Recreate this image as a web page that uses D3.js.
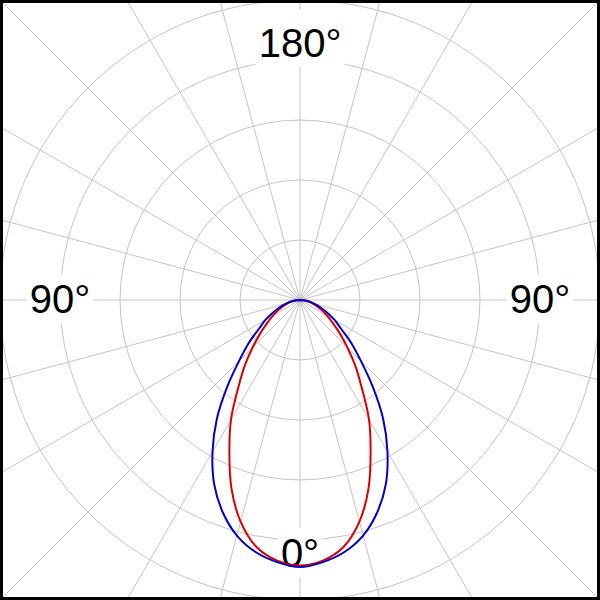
<!DOCTYPE html>
<html>
<head>
<meta charset="utf-8">
<script src="https://cdn.jsdelivr.net/npm/d3@7"></script>
<style>
  html, body { margin: 0; padding: 0; background: #fff; }
  svg { display: block; }
</style>
</head>
<body>
<svg id="chart" width="600" height="600"></svg>
<script>
// Angles (degrees from the 0° downward axis, symmetric left/right)
const angles = [0, 5, 10, 15, 20, 25, 30, 35, 40, 45, 50, 55, 60, 65, 70, 75, 80, 85, 90];
// Relative intensity (% of outer ring)
const blueValues = [89.0, 87.7, 85.3, 81.3, 75.3, 67.7, 58.3, 48.3, 37.7, 28.7, 22.3, 16.7, 13.3, 10.0, 7.3, 5.0, 3.3, 1.7, 0];
const redValues  = [88.5, 87.2, 83.6, 76.5, 66.8, 55.7, 46.0, 36.0, 28.7, 22.3, 17.3, 13.3, 10.3, 8.0, 6.0, 4.3, 2.7, 1.3, 0];
// Grid rings and spokes
const ringValues = [20, 40, 60, 80, 100];
const spokeAngles = d3.range(0, 360, 15);
// Angle labels
const labelTexts = ["180°", "90°", "90°", "0°"];

const W = 600, H = 600, cx = 300, cy = 300;
const svg = d3.select("#chart");
const r = d3.scaleLinear().domain([0, 100]).range([0, 300]);
const toRad = d => d * Math.PI / 180;

const g = svg.append("g").attr("transform", `translate(${cx},${cy})`);

// Rings
g.selectAll("circle.ring").data(ringValues).join("circle")
  .attr("class", "ring")
  .attr("r", v => r(v))
  .attr("fill", "none").attr("stroke", "#c4c4c4").attr("stroke-width", 1);

// Spokes extending to the frame
const spokeLen = r(150);
g.selectAll("line.spoke").data(spokeAngles).join("line")
  .attr("class", "spoke")
  .attr("x1", 0).attr("y1", 0)
  .attr("x2", a => spokeLen * Math.sin(toRad(a)))
  .attr("y2", a => -spokeLen * Math.cos(toRad(a)))
  .attr("stroke", "#c4c4c4").attr("stroke-width", 1);

// Labels with white backing boxes
const labelPos = [
  {x: 0, y: -r(81)},
  {x: -r(80), y: r(4.4)},
  {x: r(80), y: r(4.4)},
  {x: 0, y: r(89)}
];
const lg = g.append("g");
labelTexts.forEach((t, i) => {
  const grp = lg.append("g");
  const txt = grp.append("text")
    .attr("x", labelPos[i].x).attr("y", labelPos[i].y)
    .attr("text-anchor", "middle")
    .attr("font-family", "'Liberation Sans', Arial, sans-serif")
    .attr("font-size", 40)
    .attr("fill", "#000")
    .text(t);
  const bb = txt.node().getBBox();
  const padTop = i === 0 ? 11 : 3;
  grp.insert("rect", "text")
    .attr("x", bb.x - 3).attr("y", bb.y - padTop)
    .attr("width", bb.width + 6).attr("height", bb.height + padTop + 2)
    .attr("fill", "#fff");
});

// Curves: mirror the half-data onto both sides, from -90° through 0° to +90°
function fullCurve(vals) {
  const left = angles.slice().reverse().map((a, i) => [-a, vals[angles.length - 1 - i]]);
  const right = angles.slice(1).map((a, i) => [a, vals[i + 1]]);
  return left.concat(right);
}
const curveLine = d3.lineRadial()
  .angle(d => Math.PI - toRad(d[0]))
  .radius(d => r(d[1]))
  .curve(d3.curveCatmullRom);

g.append("path").datum(fullCurve(redValues))
  .attr("d", curveLine).attr("fill", "none")
  .attr("stroke", "#dd0000").attr("stroke-width", 2);
g.append("path").datum(fullCurve(blueValues))
  .attr("d", curveLine).attr("fill", "none")
  .attr("stroke", "#0000cc").attr("stroke-width", 2);

// Frame
svg.append("rect").attr("x", 1.5).attr("y", 1.5).attr("width", W - 3).attr("height", H - 3)
  .attr("fill", "none").attr("stroke", "#000").attr("stroke-width", 3);
</script>
</body>
</html>
